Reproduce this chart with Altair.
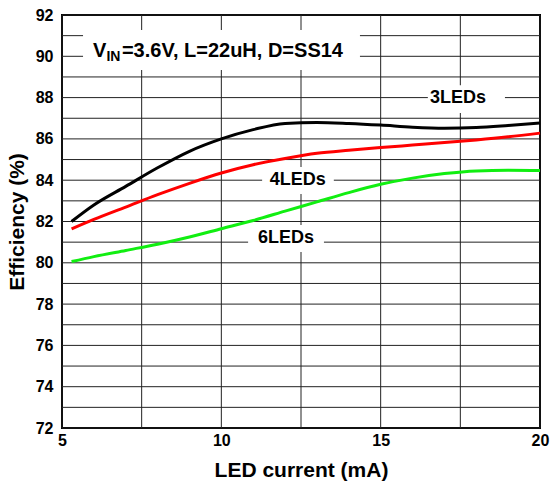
import altair as alt
import pandas as pd

# LED current (mA) sample points
current = [5.3, 6, 7, 8, 9, 10, 11, 12, 13, 14, 15, 16, 17, 18, 19, 20]

# Efficiency (%) for each LED string length
eff_3leds = [82.0, 82.8, 83.7, 84.6, 85.4, 86.0, 86.45, 86.75, 86.8, 86.75,
             86.67, 86.57, 86.52, 86.55, 86.65, 86.77]
eff_4leds = [81.64, 82.1, 82.7, 83.3, 83.85, 84.35, 84.75, 85.05, 85.3, 85.45,
             85.58, 85.7, 85.82, 85.95, 86.1, 86.28]
eff_6leds = [80.06, 80.3, 80.6, 80.9, 81.25, 81.65, 82.05, 82.5, 82.95, 83.4,
             83.8, 84.1, 84.32, 84.45, 84.48, 84.47]

series_names = ["3LEDs", "4LEDs", "6LEDs"]
series_colors = ["#000000", "#ff0000", "#11ee11"]

# Curve labels: name, anchor position and the white box behind each
label_text = ["3LEDs", "4LEDs", "6LEDs"]
label_x = [17.43, 12.4, 12.03]
label_y = [88.0, 84.0, 81.2]
box_x1 = [16.48, 11.28, 10.84]
box_x2 = [18.9, 13.53, 13.22]
box_y1 = [88.6, 84.64, 81.83]
box_y2 = [87.25, 83.33, 80.52]

# Test-condition note in the upper-left corner
note_box = {"x1": 5.66, "x2": 14.35, "y1": 91.27, "y2": 89.34}
note_x = 5.97
note_y = 89.97

x_ticks = [5 + 2.5 * i for i in range(7)]
y_ticks = list(range(72, 93))

rows = []
for name, vals in zip(series_names, [eff_3leds, eff_4leds, eff_6leds]):
    for c, v in zip(current, vals):
        rows.append({"current": c, "eff": v, "series": name})
df = pd.DataFrame(rows)

labels_df = pd.DataFrame({
    "text": label_text, "x": label_x, "y": label_y,
    "x1": box_x1, "x2": box_x2, "y1": box_y1, "y2": box_y2,
})
note_box_df = pd.DataFrame([note_box])
note_df = pd.DataFrame({"x": [note_x], "y": [note_y]})
xgrid_df = pd.DataFrame({"v": x_ticks})
ygrid_df = pd.DataFrame({"v": y_ticks})

FONT = "Liberation Sans"

x_scale = alt.Scale(domain=[5, 20], nice=False, zero=False)
y_scale = alt.Scale(domain=[72, 92], nice=False, zero=False)

x_axis = alt.Axis(
    values=x_ticks, grid=False, ticks=False, domain=False, labelFlush=False,
    labelExpr="datum.value % 5 == 0 ? datum.label : ''",
    title="LED current (mA)", labelPadding=4, titlePadding=11,
)
y_axis = alt.Axis(
    values=y_ticks, grid=False, ticks=False, domain=False, labelFlush=False,
    labelExpr="datum.value % 2 == 0 ? datum.label : ''",
    title="Efficiency (%)", labelPadding=9, titlePadding=8,
)


def X(field):
    return alt.X(field, scale=x_scale, axis=x_axis)


def Y(field):
    return alt.Y(field, scale=y_scale, axis=y_axis)


# Grid lines at every tick position
xgrid = alt.Chart(xgrid_df).mark_rule(color="#222222", strokeWidth=1).encode(x=X("v:Q"))
ygrid = alt.Chart(ygrid_df).mark_rule(color="#222222", strokeWidth=1).encode(y=Y("v:Q"))

lines = alt.Chart(df).mark_line(strokeWidth=3, interpolate="monotone").encode(
    x=X("current:Q"),
    y=Y("eff:Q"),
    color=alt.Color("series:N", scale=alt.Scale(domain=series_names, range=series_colors), legend=None),
)

boxes = alt.Chart(labels_df).mark_rect(fill="white").encode(
    x=X("x1:Q"), x2="x2", y=Y("y1:Q"), y2="y2",
)
label_marks = alt.Chart(labels_df).mark_text(
    font=FONT, fontSize=18, fontWeight="bold", align="center", baseline="middle", color="black"
).encode(x=X("x:Q"), y=Y("y:Q"), text="text:N")

note_rect = alt.Chart(note_box_df).mark_rect(fill="white").encode(
    x=X("x1:Q"), x2="x2", y=Y("y1:Q"), y2="y2",
)
note_v = alt.Chart(note_df).mark_text(
    font=FONT, fontSize=20, fontWeight="bold", align="left", baseline="alphabetic", text="V"
).encode(x=X("x:Q"), y=Y("y:Q"))
note_sub = alt.Chart(note_df).mark_text(
    font=FONT, fontSize=14, fontWeight="bold", align="left", baseline="alphabetic", text="IN", dx=13.5, dy=4
).encode(x=X("x:Q"), y=Y("y:Q"))
note_main = alt.Chart(note_df).mark_text(
    font=FONT, fontSize=20, fontWeight="bold", align="left", baseline="alphabetic",
    text="=3.6V, L=22uH, D=SS14", dx=29
).encode(x=X("x:Q"), y=Y("y:Q"))

chart = alt.layer(
    xgrid, ygrid, boxes, note_rect, lines, label_marks, note_v, note_sub, note_main
).properties(
    width=478, height=413,
    autosize=alt.AutoSizeParams(type="none"),
    padding={"left": 62, "top": 15, "right": 12, "bottom": 56},
    background="white",
).configure_view(
    stroke="black", strokeWidth=2,
).configure_axis(
    labelFont=FONT, labelFontSize=16, labelFontWeight="bold", labelColor="black",
    titleFont=FONT, titleFontSize=21, titleFontWeight="bold", titleColor="black",
)

chart.save("out.html", embed_options={"renderer": "svg", "actions": False})
